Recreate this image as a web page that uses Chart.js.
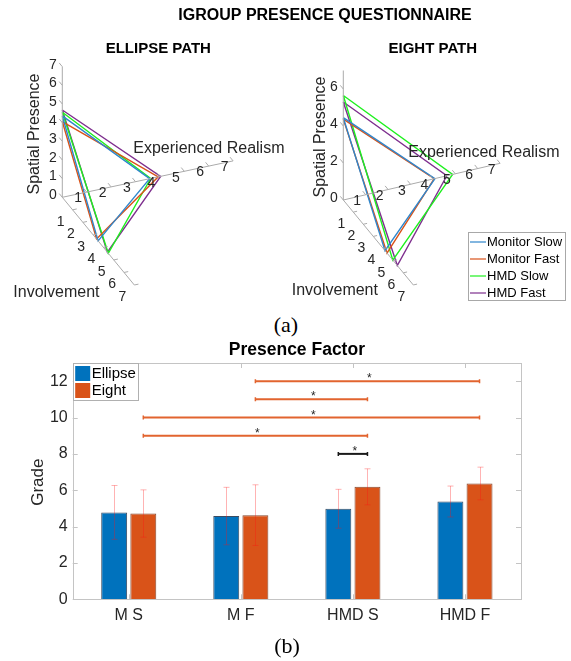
<!DOCTYPE html>
<html><head><meta charset="utf-8">
<script src="https://cdn.jsdelivr.net/npm/chart.js@4.4.1/dist/chart.umd.min.js"></script>
<style>
html,body{margin:0;padding:0;background:#fff;width:571px;height:661px;overflow:hidden;position:relative}
canvas{display:block}
#top{position:absolute;left:0;top:0;width:571px;height:312px}
#bot{position:absolute;left:0;top:335px;width:571px;height:326px}
.lab{position:absolute;font-family:"Liberation Serif","Times New Roman",serif;font-size:22px;line-height:24px;color:#000;width:60px;text-align:center}
</style></head><body>
<div id="top"><canvas id="c1" width="571" height="312"></canvas></div>
<div class="lab" style="left:256px;top:313px">(a)</div>
<div id="bot"><canvas id="c2" width="571" height="326"></canvas></div>
<div class="lab" style="left:257px;top:634px">(b)</div>
<script>
// ---------- DATA ----------
const mainTitle = 'IGROUP PRESENCE QUESTIONNAIRE';
const panelTitles = ['ELLIPSE PATH', 'EIGHT PATH'];
const axisNames = ['Spatial Presence', 'Experienced Realism', 'Involvement'];
const conditionNames = ['Monitor Slow', 'Monitor Fast', 'HMD Slow', 'HMD Fast'];
// order: Monitor Slow, Monitor Fast, HMD Slow, HMD Fast
const ellipseSpatial     = [4.36, 4.06, 4.56, 4.68];
const ellipseRealism     = [3.58, 3.93, 3.62, 4.03];
const ellipseInvolvement = [3.48, 3.33, 4.47, 4.38];
const eightSpatial       = [4.45, 4.37, 5.65, 5.30];
const eightRealism       = [4.09, 4.06, 4.88, 4.62];
const eightInvolvement   = [4.17, 4.37, 4.95, 5.40];
const axisMax = 7;
const ellipseSpatialTicks = [0,1,2,3,4,5,6,7];
const eightSpatialTicks = [0,2,4,6];
const realismTicks = [1,2,3,4,5,6,7];
const involvementTicks = [1,2,3,4,5,6,7];

const barTitle = 'Presence Factor';
const barYLabel = 'Grade';
const categories = ['M S', 'M F', 'HMD S', 'HMD F'];
const seriesLabels = ['Ellipse', 'Eight'];
const ellipseMeans = [4.78, 4.58, 4.98, 5.38];
const eightMeans   = [4.72, 4.63, 6.19, 6.37];
const ellipseSD    = [1.48, 1.58, 1.07, 0.85];
const eightSD      = [1.30, 1.67, 0.99, 0.90];
const yTicks = [0, 2, 4, 6, 8, 10, 12];
// significance brackets: level, from (category, series), to (category, series)
const sigLevel      = [12, 11, 10, 9, 8];
const sigFromCat    = [1, 1, 0, 0, 2];
const sigFromSeries = [1, 1, 1, 1, 0];
const sigToCat      = [3, 2, 3, 2, 2];
const sigToSeries   = [1, 1, 1, 1, 1];

// ---------- STYLE / LAYOUT ----------
const FONT = '"Liberation Sans", Arial, Helvetica, sans-serif';
const condColors = ['#2F86CC', '#D95319', '#1EF01E', '#7E2F8E'];
const barColors = ['#0072BD', '#D95319'];
const views = [
  {ox:62.3,  oy:197.3, sp:[0,-18.66], er:[24.4,-5.2],  inv:[10.29,12.53], spTicks: ellipseSpatialTicks,
   data:[ellipseSpatial, ellipseRealism, ellipseInvolvement],
   title:[158.3,49], spLab:[34.3,134], erLab:[133.3,153.2], invLab:[13.3,296.5]},
  {ox:343.3, oy:200,   sp:[0,-18.5],  er:[22.4,-5.24], inv:[10.0,12.14],  spTicks: eightSpatialTicks,
   data:[eightSpatial, eightRealism, eightInvolvement],
   title:[432.8,49], spLab:[321,137], erLab:[408.3,157.3], invLab:[291.7,294.8]}
];
function proj(v, s, e, i) {
  return {x: v.ox + s*v.sp[0] + e*v.er[0] + i*v.inv[0], y: v.oy + s*v.sp[1] + e*v.er[1] + i*v.inv[1]};
}
const GAP = {x: NaN, y: NaN};

// ---------- TOP (3D triads) ----------
const topDatasets = [];
views.forEach(v => {
  const axes = [proj(v,0,0,0), proj(v,axisMax,0,0), GAP, proj(v,0,0,0), proj(v,0,axisMax,0), GAP, proj(v,0,0,0), proj(v,0,0,axisMax)];
  topDatasets.push({data: axes, borderColor:'#ababab', borderWidth:1, showLine:true, pointRadius:0, spanGaps:false, clip:false});
  const ticks = [];
  v.spTicks.forEach(t => { ticks.push(proj(v,t,0,0), proj(v,t,0,-0.3), GAP); });
  realismTicks.forEach(t => { ticks.push(proj(v,0,t,0), proj(v,0,t,-0.3), GAP); });
  involvementTicks.forEach(t => { ticks.push(proj(v,0,0,t), proj(v,0,0.17,t), GAP); });
  topDatasets.push({data: ticks, borderColor:'#ababab', borderWidth:1, showLine:true, pointRadius:0, spanGaps:false, clip:false});
  conditionNames.forEach((n, k) => {
    const a = proj(v, v.data[0][k], 0, 0), b = proj(v, 0, v.data[1][k], 0), c = proj(v, 0, 0, v.data[2][k]);
    topDatasets.push({label:n, data:[a,b,c,a], borderColor:condColors[k], borderWidth:1.4, showLine:true, pointRadius:0, clip:false, tension:0});
  });
});

const topText = {
  id:'topText',
  afterDatasetsDraw(chart) {
    const ctx = chart.ctx, sx = chart.scales.x, sy = chart.scales.y;
    const px = p => [sx.getPixelForValue(p.x), sy.getPixelForValue(p.y)];
    ctx.save();
    ctx.fillStyle = '#000';
    ctx.textAlign = 'center'; ctx.textBaseline = 'middle';
    ctx.font = 'bold 16px ' + FONT;
    ctx.fillText(mainTitle, 325, 16);
    ctx.font = 'bold 15px ' + FONT;
    views.forEach((v, i) => ctx.fillText(panelTitles[i], v.title[0], v.title[1]));
    ctx.fillStyle = '#262626';
    views.forEach(v => {
      ctx.font = '14px ' + FONT; ctx.textAlign = 'center'; ctx.textBaseline = 'middle';
      v.spTicks.forEach(t => { const [x,y] = px(proj(v,t,0,0)); ctx.fillText(String(t), x-9.5, y-2); });
      realismTicks.forEach(t => { const [x,y] = px(proj(v,0,t,0)); ctx.fillText(String(t), x-8.5, y+6.5); });
      involvementTicks.forEach(t => { const [x,y] = px(proj(v,0,0,t)); ctx.fillText(String(t), x-12, y+12); });
      ctx.font = '16px ' + FONT;
      ctx.save(); ctx.translate(v.spLab[0], v.spLab[1]); ctx.rotate(-Math.PI/2);
      ctx.textAlign = 'center'; ctx.textBaseline = 'middle'; ctx.fillText(axisNames[0], 0, 0); ctx.restore();
      ctx.textAlign = 'left'; ctx.textBaseline = 'alphabetic';
      ctx.fillText(axisNames[1], v.erLab[0], v.erLab[1]);
      ctx.fillText(axisNames[2], v.invLab[0], v.invLab[1]);
    });
    // legend
    ctx.fillStyle = '#fff'; ctx.fillRect(468.5, 232.5, 97, 68);
    ctx.strokeStyle = '#a8a8a8'; ctx.lineWidth = 1; ctx.strokeRect(468.5, 232.5, 97, 68);
    ctx.font = '13px ' + FONT; ctx.textAlign = 'left'; ctx.textBaseline = 'middle';
    conditionNames.forEach((n, k) => {
      const y = 242 + k*17;
      ctx.strokeStyle = condColors[k]; ctx.lineWidth = 1.2;
      ctx.beginPath(); ctx.moveTo(470, y); ctx.lineTo(486, y); ctx.stroke();
      ctx.fillStyle = '#000'; ctx.fillText(n, 487, y);
    });
    ctx.restore();
  }
};

new Chart(document.getElementById('c1'), {
  type: 'scatter',
  data: {datasets: topDatasets},
  options: {
    responsive:false, animation:false, devicePixelRatio:1,
    layout:{padding:0},
    plugins:{legend:{display:false}, tooltip:{enabled:false}},
    scales:{
      x:{type:'linear', min:0, max:571, display:false},
      y:{type:'linear', min:0, max:312, reverse:true, display:false}
    }
  },
  plugins:[topText]
});

// ---------- BOTTOM (bar chart) ----------
const barExtras = {
  id:'barExtras',
  afterDatasetsDraw(chart) {
    const ctx = chart.ctx, a = chart.chartArea, ys = chart.scales.y, xs = chart.scales.x;
    ctx.save();
    // error bars
    const sds = [ellipseSD, eightSD], means = [ellipseMeans, eightMeans];
    ctx.strokeStyle = 'rgba(255,20,20,0.32)'; ctx.lineWidth = 1;
    [0,1].forEach(s => {
      chart.getDatasetMeta(s).data.forEach((bar, i) => {
        const x = Math.round(bar.x) + 0.5;
        const yt = ys.getPixelForValue(means[s][i] + sds[s][i]);
        const yb = ys.getPixelForValue(means[s][i] - sds[s][i]);
        ctx.beginPath();
        ctx.moveTo(x, yt); ctx.lineTo(x, yb);
        ctx.moveTo(x-3, yt); ctx.lineTo(x+3, yt);
        ctx.moveTo(x-3, yb); ctx.lineTo(x+3, yb);
        ctx.stroke();
      });
    });
    // box + inner ticks
    ctx.strokeStyle = '#c4c4c4'; ctx.lineWidth = 1;
    ctx.strokeRect(Math.round(a.left)+0.5, Math.round(a.top)+0.5, Math.round(a.right-a.left), Math.round(a.bottom-a.top));
    ctx.beginPath();
    yTicks.forEach(v => {
      const y = Math.round(ys.getPixelForValue(v)) + 0.5;
      ctx.moveTo(a.left, y); ctx.lineTo(a.left+5, y);
      ctx.moveTo(a.right, y); ctx.lineTo(a.right-5, y);
    });
    categories.forEach((c, i) => {
      const x = Math.round(xs.getPixelForValue(i)) + 0.5;
      ctx.moveTo(x, a.top); ctx.lineTo(x, a.top+5);
      ctx.moveTo(x, a.bottom); ctx.lineTo(x, a.bottom-5);
    });
    ctx.stroke();
    // significance lines
    sigLevel.forEach((lv, k) => {
      const x1 = chart.getDatasetMeta(sigFromSeries[k]).data[sigFromCat[k]].x;
      const x2 = chart.getDatasetMeta(sigToSeries[k]).data[sigToCat[k]].x;
      const y = ys.getPixelForValue(lv);
      const col = sigFromCat[k] === sigToCat[k] ? '#1a1a1a' : '#E2642F';
      ctx.strokeStyle = col; ctx.lineWidth = 2;
      ctx.beginPath(); ctx.moveTo(x1, y); ctx.lineTo(x2, y); ctx.stroke();
      ctx.lineWidth = 1.5;
      ctx.beginPath(); ctx.moveTo(x1, y-2); ctx.lineTo(x1, y+2); ctx.moveTo(x2, y-2); ctx.lineTo(x2, y+2); ctx.stroke();
      ctx.fillStyle = '#262626'; ctx.font = '12px ' + FONT; ctx.textAlign = 'center'; ctx.textBaseline = 'alphabetic';
      ctx.fillText('*', (x1+x2)/2 + 2, y + 1);
    });
    // legend
    ctx.fillStyle = '#fff'; ctx.fillRect(a.left, a.top, 65, 37);
    ctx.strokeStyle = '#b0b0b0'; ctx.lineWidth = 1;
    ctx.strokeRect(Math.round(a.left)+0.5, Math.round(a.top)+0.5, 65, 37);
    ctx.font = '15px ' + FONT; ctx.textAlign = 'left'; ctx.textBaseline = 'middle';
    seriesLabels.forEach((l, s) => {
      const y0 = a.top + 3 + s*17;
      ctx.fillStyle = barColors[s]; ctx.fillRect(a.left+2.5, y0, 15, 15);
      ctx.fillStyle = '#000'; ctx.fillText(l, a.left+19, y0+8);
    });
    // title + y label
    ctx.fillStyle = '#000'; ctx.font = 'bold 17.5px ' + FONT; ctx.textAlign = 'center'; ctx.textBaseline = 'middle';
    ctx.fillText(barTitle, (a.left+a.right)/2, 15);
    ctx.fillStyle = '#262626'; ctx.font = '17px ' + FONT;
    ctx.translate(38, (a.top+a.bottom)/2 + 1); ctx.rotate(-Math.PI/2);
    ctx.fillText(barYLabel, 0, 0);
    ctx.restore();
  }
};

new Chart(document.getElementById('c2'), {
  type:'bar',
  data:{labels:categories, datasets:[
    {label:seriesLabels[0], data:ellipseMeans, backgroundColor:barColors[0], borderColor:'rgba(25,45,70,0.85)', borderWidth:1},
    {label:seriesLabels[1], data:eightMeans, backgroundColor:barColors[1], borderColor:'rgba(110,40,10,0.85)', borderWidth:1}
  ]},
  options:{
    responsive:false, animation:false, devicePixelRatio:1,
    layout:{padding:{left:0, right:50, top:28, bottom:0}},
    datasets:{bar:{categoryPercentage:0.52, barPercentage:0.89}},
    plugins:{legend:{display:false}, tooltip:{enabled:false}, title:{display:false}},
    scales:{
      x:{grid:{display:false, drawTicks:false}, border:{display:false},
         ticks:{color:'#262626', font:{family:FONT, size:16}, padding:7},
         afterFit(s){ s.height = 61.7; }},
      y:{min:0, max:13, grid:{display:false, drawTicks:false}, border:{display:false},
         ticks:{color:'#262626', font:{family:FONT, size:16}, padding:5},
         afterBuildTicks(s){ s.ticks = yTicks.map(v => ({value:v})); },
         afterFit(s){ s.width = 72.7; }}
    }
  },
  plugins:[barExtras]
});
</script>
</body></html>
